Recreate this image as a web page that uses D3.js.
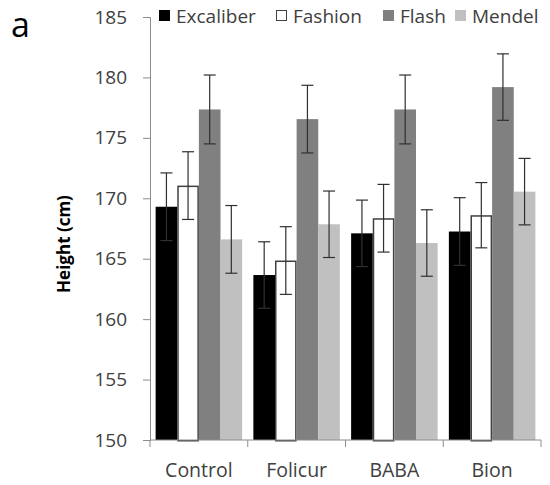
<!DOCTYPE html>
<html>
<head>
<meta charset="utf-8">
<script src="https://cdn.jsdelivr.net/npm/d3@7"></script>
<style>
  body { margin: 0; background: #fff; }
  text { font-family: "Open Sans", "Liberation Sans", sans-serif; }
</style>
</head>
<body>
<div id="chart"></div>
<script>
// data
var treatments = ["Control", "Folicur", "BABA", "Bion"];
var cultivars = ["Excaliber", "Fashion", "Flash", "Mendel"];
var excaliber = [169.3, 163.65, 167.1, 167.25];
var fashion = [171.05, 164.85, 168.35, 168.6];
var flash = [177.35, 176.55, 177.35, 179.2];
var mendel = [166.6, 167.85, 166.3, 170.55];
var excaliberErr = [2.8, 2.75, 2.75, 2.8];
var fashionErr = [2.8, 2.8, 2.8, 2.7];
var flashErr = [2.85, 2.8, 2.85, 2.75];
var mendelErr = [2.8, 2.75, 2.75, 2.75];
var yTicks = [150, 155, 160, 165, 170, 175, 180, 185];

var values = [excaliber, fashion, flash, mendel];
var errors = [excaliberErr, fashionErr, flashErr, mendelErr];
var fills = ["#000000", "#ffffff", "#808080", "#c0c0c0"];
var strokes = ["none", "#404040", "none", "none"];

var width = 550;
var height = 485;
var margin = { left: 150, right: 9, top: 17, bottom: 45 };

var svg = d3.select("#chart").append("svg")
    .attr("width", width)
    .attr("height", height);

var x0 = d3.scaleBand()
    .domain(treatments)
    .range([margin.left, width - margin.right])
    .paddingInner(0)
    .paddingOuter(0);

var x1 = d3.scaleBand()
    .domain(cultivars)
    .range([0, x0.bandwidth()])
    .paddingInner(0)
    .paddingOuter(0.26);

var y = d3.scaleLinear()
    .domain([150, 185])
    .range([height - margin.bottom, margin.top]);

// bars
var groups = svg.selectAll("g.group")
    .data(treatments)
    .enter().append("g")
    .attr("class", "group")
    .attr("transform", function (d) { return "translate(" + x0(d) + ",0)"; });

groups.each(function (t, i) {
    var g = d3.select(this);
    cultivars.forEach(function (c, j) {
        var v = values[j][i];
        var inset = strokes[j] === "none" ? 0 : 0.75;
        g.append("rect")
            .attr("x", x1(c) + inset)
            .attr("y", y(v) + inset)
            .attr("width", x1.bandwidth() - 2 * inset)
            .attr("height", y(150) - y(v))
            .style("fill", fills[j])
            .style("stroke", strokes[j])
            .style("stroke-width", 1.5);
    });
    cultivars.forEach(function (c, j) {
        var v = values[j][i];
        var e = errors[j][i];
        var cx = x1(c) + x1.bandwidth() / 2;
        var col = "#303030";
        g.append("line")
            .attr("x1", cx).attr("x2", cx)
            .attr("y1", y(v + e)).attr("y2", y(v - e))
            .style("stroke", col).style("stroke-width", 1.2);
        [v + e, v - e].forEach(function (w) {
            g.append("line")
                .attr("x1", cx - 6).attr("x2", cx + 6)
                .attr("y1", y(w)).attr("y2", y(w))
                .style("stroke", col).style("stroke-width", 1.2);
        });
    });
});

// y axis
var yAxis = d3.axisLeft(y).tickValues(yTicks).tickSize(7).tickPadding(16);
var ya = svg.append("g")
    .attr("transform", "translate(" + margin.left + ",0)")
    .call(yAxis);
ya.select(".domain").style("stroke", "#8c8c8c");
ya.selectAll(".tick line").style("stroke", "#8c8c8c");
ya.selectAll(".tick text")
    .style("font-size", "19px")
    .style("fill", "#404040");

// x axis
var xa = svg.append("g")
    .attr("transform", "translate(0," + y(150) + ")");
xa.append("line")
    .attr("x1", margin.left).attr("x2", width - margin.right)
    .style("stroke", "#8c8c8c");
var bounds = treatments.map(function (t) { return x0(t); }).concat([x0.range()[1]]);
xa.selectAll("line.tk")
    .data(bounds)
    .enter().append("line")
    .attr("class", "tk")
    .attr("x1", function (d) { return d; }).attr("x2", function (d) { return d; })
    .attr("y1", 0).attr("y2", 7)
    .style("stroke", "#8c8c8c");
xa.selectAll("text")
    .data(treatments)
    .enter().append("text")
    .attr("x", function (d) { return x0(d) + x0.bandwidth() / 2; })
    .attr("y", 36.5)
    .attr("text-anchor", "middle")
    .style("font-size", "19.5px")
    .style("fill", "#404040")
    .text(function (d) { return d; });

// y title
svg.append("text")
    .attr("transform", "translate(70,244) rotate(-90)")
    .attr("text-anchor", "middle")
    .style("font-size", "17px")
    .style("font-weight", "bold")
    .style("fill", "#000")
    .text("Height (cm)");

// panel label
svg.append("text")
    .attr("x", 11).attr("y", 37)
    .style("font-size", "34px")
    .style("fill", "#000")
    .text("a");

// legend
var legendX = [159, 276, 383, 455];
var legend = svg.selectAll("g.legend")
    .data(cultivars)
    .enter().append("g")
    .attr("class", "legend")
    .attr("transform", function (d, i) { return "translate(" + legendX[i] + ",10)"; });
legend.append("rect")
    .attr("x", 0.5).attr("y", 0.5)
    .attr("width", 10).attr("height", 10)
    .style("fill", function (d, i) { return fills[i]; })
    .style("stroke", function (d, i) { return i === 1 ? "#404040" : fills[i]; });
legend.append("text")
    .attr("x", 17).attr("y", 12.5)
    .style("font-size", "19px")
    .style("fill", "#404040")
    .text(function (d) { return d; });
</script>
</body>
</html>
